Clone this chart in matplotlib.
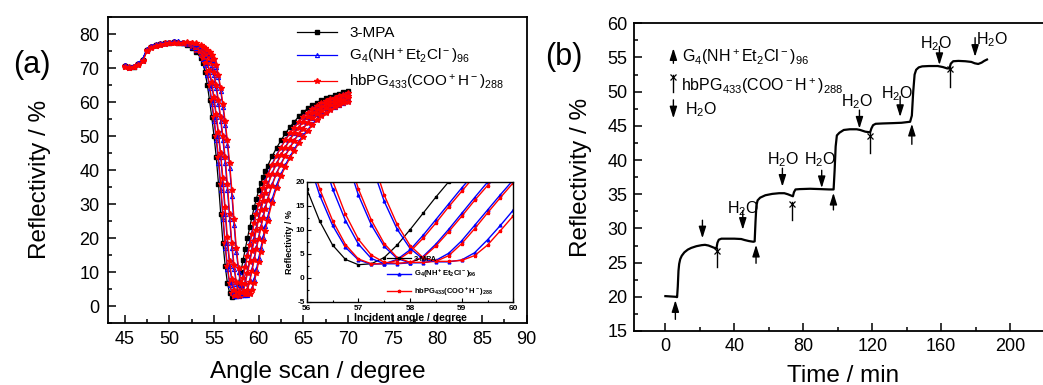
import matplotlib
matplotlib.use("Agg")
from matplotlib import pyplot as plt
from matplotlib.ticker import MultipleLocator

plt.rcParams["font.family"] = ["Liberation Sans", "DejaVu Sans"]
plt.rcParams["mathtext.default"] = "regular"
plt.rcParams["axes.unicode_minus"] = False

# ---- panel (a): SPR angle scans ----
angle = [45.0, 45.5, 46.0, 46.5, 47.0, 47.5, 48.0, 48.5, 49.0, 49.5, 50.0, 50.5, 51.0, 51.5, 52.0, 52.5, 53.0, 53.5,
         53.75, 54.0, 54.25, 54.5, 54.75, 55.0, 55.25, 55.5, 55.75, 56.0, 56.25, 56.5, 56.75, 57.0, 57.25, 57.5,
         57.75, 58.0, 58.25, 58.5, 58.75, 59.0, 59.25, 59.5, 59.75, 60.0, 60.25, 60.5, 60.75, 61.0,
         61.5, 62.0, 62.5, 63.0, 63.5, 64.0, 64.5, 65.0, 65.5, 66.0, 66.5, 67.0, 67.5, 68.0, 68.5, 69.0, 69.5, 70.0]

mpa = [70.5, 70.2, 70.4, 71.2, 72.3, 75.3, 76.3, 76.7, 77.0, 77.3, 77.5, 77.6, 77.5, 77.3, 76.8, 76.0, 74.8, 73.0,
       71.5, 68.8, 65.0, 60.5, 55.5, 50.0, 43.8, 36.0, 27.2, 18.5, 11.8, 6.8, 3.8, 2.7, 2.9, 4.2, 6.8, 10.0, 13.4, 16.8,
       20.0, 23.2, 26.2, 29.0, 31.6, 34.0, 36.1, 38.0, 39.7, 41.2,
       44.0, 46.5, 48.7, 50.8, 52.6, 54.2, 55.8, 57.0, 58.1, 59.0, 59.8, 60.5, 61.1, 61.6, 62.1, 62.5, 62.9, 63.2]

g4_1 = [70.8, 70.3, 70.5, 71.3, 72.5, 75.4, 76.4, 76.8, 77.1, 77.4, 77.6, 77.7, 77.6, 77.4, 77.0, 76.3, 75.3, 73.8,
        72.7, 71.0, 68.0, 64.1, 59.5, 54.4, 48.8, 42.2, 34.2, 25.5, 17.2, 10.9, 6.3, 3.7, 2.8, 2.9, 3.8, 5.8, 8.8, 12.1,
        15.4, 18.7, 21.8, 24.9, 27.8, 30.4, 32.9, 35.1, 37.0, 38.8,
        41.8, 44.5, 46.8, 49.0, 51.0, 52.7, 54.3, 55.8, 57.0, 58.1, 58.9, 59.7, 60.3, 60.9, 61.4, 61.9, 62.3, 62.7]
hb_1 = [70.6, 70.1, 70.4, 71.1, 72.3, 75.2, 76.3, 76.7, 77.0, 77.3, 77.5, 77.6, 77.5, 77.4, 77.1, 76.4, 75.4, 74.0,
        73.0, 71.5, 68.8, 65.0, 60.5, 55.5, 50.0, 43.8, 36.0, 27.2, 18.5, 11.9, 6.9, 3.9, 2.9, 2.9, 3.6, 5.4, 8.2, 11.4,
        14.8, 18.0, 21.2, 24.3, 27.2, 29.9, 32.4, 34.6, 36.6, 38.4,
        41.5, 44.2, 46.6, 48.8, 50.8, 52.5, 54.1, 55.7, 56.9, 57.9, 58.8, 59.6, 60.2, 60.8, 61.3, 61.8, 62.2, 62.6]
g4_2 = [70.9, 70.4, 70.6, 71.4, 72.6, 75.5, 76.5, 76.9, 77.2, 77.5, 77.7, 77.8, 77.7, 77.5, 77.3, 76.8, 76.0, 74.8,
        74.0, 73.0, 71.5, 68.8, 65.0, 60.5, 55.5, 50.0, 43.8, 36.0, 27.2, 18.5, 11.9, 7.0, 4.0, 2.9, 2.9, 3.1, 4.4, 7.0,
        10.1, 13.4, 16.7, 19.9, 23.0, 26.0, 28.7, 31.3, 33.6, 35.7,
        39.2, 42.0, 44.6, 46.9, 49.1, 51.0, 52.7, 54.3, 55.7, 56.9, 57.9, 58.7, 59.5, 60.1, 60.6, 61.1, 61.6, 62.0]
hb_2 = [70.5, 70.2, 70.3, 71.2, 72.2, 75.1, 76.2, 76.6, 77.0, 77.3, 77.4, 77.6, 77.5, 77.4, 77.3, 76.9, 76.1, 74.9,
        74.2, 73.2, 71.8, 69.3, 65.8, 61.4, 56.5, 51.1, 45.0, 37.6, 29.0, 20.2, 13.2, 8.0, 4.7, 3.2, 3.0, 3.2, 4.2, 6.6,
        9.6, 12.8, 16.1, 19.2, 22.4, 25.4, 28.2, 30.8, 33.2, 35.3,
        38.9, 41.7, 44.3, 46.6, 48.8, 50.8, 52.5, 54.1, 55.5, 56.7, 57.7, 58.6, 59.4, 60.0, 60.5, 61.0, 61.5, 61.9]
g4_3 = [71.0, 70.4, 70.7, 71.5, 72.6, 75.6, 76.6, 77.0, 77.3, 77.5, 77.7, 77.8, 77.8, 77.6, 77.5, 77.3, 76.7, 75.9,
        75.3, 74.6, 73.8, 72.7, 71.0, 68.0, 64.1, 59.5, 54.4, 48.8, 42.2, 34.2, 25.5, 17.2, 11.0, 6.5, 4.0, 3.1, 3.1, 3.6,
        5.1, 7.7, 10.9, 14.1, 17.3, 20.4, 23.5, 26.4, 29.1, 31.6,
        35.8, 39.2, 41.9, 44.5, 46.7, 48.9, 50.7, 52.4, 54.0, 55.4, 56.6, 57.5, 58.3, 59.1, 59.7, 60.3, 60.8, 61.2]
hb_3 = [70.4, 70.0, 70.3, 71.0, 72.1, 75.0, 76.1, 76.6, 76.9, 77.2, 77.4, 77.5, 77.5, 77.5, 77.5, 77.3, 76.8, 76.0,
        75.4, 74.8, 74.0, 73.0, 71.5, 68.8, 65.0, 60.5, 55.5, 50.0, 43.8, 36.0, 27.2, 18.5, 12.0, 7.1, 4.2, 3.2, 3.2, 3.4,
        4.6, 7.1, 10.2, 13.5, 16.7, 19.8, 22.9, 25.8, 28.6, 31.1,
        35.4, 38.9, 41.6, 44.2, 46.4, 48.6, 50.5, 52.2, 53.8, 55.2, 56.4, 57.4, 58.2, 59.0, 59.6, 60.2, 60.7, 61.1]
g4_4 = [70.9, 70.3, 70.6, 71.4, 72.5, 75.4, 76.5, 76.9, 77.2, 77.5, 77.7, 77.8, 77.8, 77.7, 77.6, 77.5, 77.2, 76.6,
        76.2, 75.8, 75.2, 74.5, 73.6, 72.4, 70.4, 67.3, 63.2, 58.5, 53.3, 47.5, 40.7, 32.5, 23.7, 15.9, 10.1, 6.1, 3.9, 3.3,
        3.3, 3.7, 5.2, 7.9, 10.9, 14.1, 17.2, 20.3, 23.4, 26.2,
        31.4, 35.6, 38.9, 41.6, 44.0, 46.2, 48.4, 50.3, 51.9, 53.5, 54.9, 56.1, 57.1, 57.9, 58.6, 59.2, 59.8, 60.3]
hb_4 = [70.3, 70.0, 70.2, 71.0, 72.0, 74.9, 76.0, 76.5, 76.9, 77.2, 77.4, 77.5, 77.5, 77.5, 77.6, 77.5, 77.3, 76.7,
        76.3, 75.9, 75.3, 74.6, 73.8, 72.7, 71.0, 68.0, 64.1, 59.5, 54.4, 48.8, 42.2, 34.2, 25.5, 17.2, 11.1, 6.7, 4.2, 3.4,
        3.4, 3.6, 4.6, 6.8, 9.8, 12.9, 16.0, 19.1, 22.2, 25.1,
        30.4, 34.7, 38.2, 41.0, 43.5, 45.7, 47.9, 49.8, 51.5, 53.1, 54.6, 55.8, 56.8, 57.6, 58.4, 59.0, 59.6, 60.1]

# deposition order: G4, hbPG, G4, hbPG ...
layers = [g4_1, hb_1, g4_2, hb_2, g4_3, hb_3, g4_4, hb_4]

lab_mpa = "3-MPA"
lab_g4 = r"G$_4$(NH$^+$Et$_2$Cl$^-$)$_{96}$"
lab_hb = r"hbPG$_{433}$(COO$^+$H$^-$)$_{288}$"

# ---- panel (b): reflectivity kinetics ----
time_min = [0.0, 3.0, 6.0, 6.8, 7.2, 7.6, 8.0, 8.6, 9.5, 11.0, 13.0, 15.0, 18.0, 21.0, 23.0, 25.0, 27.0, 29.0,
            29.6, 30.2, 31.0, 32.5, 36.0, 40.0, 44.0, 46.0, 48.5, 51.0, 51.8, 52.3, 52.8, 53.5, 55.0, 58.0,
            62.0, 66.0, 69.0, 71.0, 73.0, 74.0, 74.6, 75.5, 78.0, 84.0, 90.0, 95.0, 97.6, 98.2, 98.8, 99.5,
            101.0, 103.5, 107.0, 111.0, 113.0, 116.0, 118.8, 119.5, 120.5, 122.0, 126.0, 132.0, 137.0, 142.0,
            143.0, 143.8, 144.6, 145.5, 147.0, 149.0, 153.0, 158.0, 161.0, 163.5, 164.8, 165.6, 167.0, 170.0,
            174.0, 177.5, 179.5, 181.5, 183.5, 185.0, 186.6]
refl = [20.1, 20.05, 20.0, 19.95, 21.5, 23.8, 24.8, 25.5, 26.0, 26.5, 26.9, 27.15, 27.4, 27.55, 27.6, 27.5, 27.3, 27.1,
        27.05, 27.9, 28.35, 28.5, 28.5, 28.5, 28.45, 28.3, 28.15, 28.05, 28.1, 31.0, 33.3, 34.1, 34.5, 34.85,
        35.05, 35.15, 35.15, 35.0, 34.8, 34.7, 35.3, 35.7, 35.75, 35.8, 35.75, 35.7, 35.7, 38.5, 42.0, 43.6,
        44.0, 44.4, 44.5, 44.5, 44.4, 44.15, 44.05, 44.6, 45.1, 45.3, 45.35, 45.4, 45.45, 45.6,
        46.5, 50.0, 52.5, 53.2, 53.55, 53.7, 53.75, 53.75, 53.6, 53.4, 53.4, 54.1, 54.45, 54.5,
        54.45, 54.35, 54.15, 54.05, 54.25, 54.5, 54.7]

# injection markers (time, arrow tail, arrow tip)
g4_time = [5.8, 52.6, 97.5, 143.0]
g4_from = [16.7, 24.9, 32.7, 42.3]
g4_to = [19.5, 27.6, 35.2, 45.3]
hb_time = [29.8, 73.3, 118.8, 165.2]
hb_from = [24.3, 31.3, 41.0, 50.7]
hb_to = [27.1, 33.9, 43.9, 53.65]
water_time = [21.5, 44.9, 67.9, 90.7, 112.6, 136.2, 159.0, 179.7]
water_from = [31.2, 32.6, 38.8, 38.5, 47.3, 49.3, 56.6, 57.9]
water_to = [28.55, 29.8, 36.1, 35.9, 44.6, 46.3, 53.9, 55.1]
water_label_x = [45.0, 68.5, 89.7, 111.4, 134.2, 157.3, 189.6]
water_label_y = [32.2, 39.4, 39.4, 47.8, 49.1, 56.4, 57.0]

key_time = [4.65, 4.65, 4.65]
key_from = [54.15, 50.0, 48.8]
key_to = [56.35, 52.45, 46.1]
key_text_x = [9.5, 9.0, 11.4]
key_text_y = [54.4, 50.1, 46.7]
key_text = [r"G$_4$(NH$^+$Et$_2$Cl$^-$)$_{96}$", r"hbPG$_{433}$(COO$^-$H$^+$)$_{288}$", r"H$_2$O"]


def draw_arrow(ax, t, y0, y1):
    ax.annotate("", xy=(t, y1), xytext=(t, y0),
                arrowprops=dict(arrowstyle="-|>,head_length=0.7,head_width=0.22", color="black",
                                lw=1.0, mutation_scale=10, shrinkA=0, shrinkB=0))


def draw_cross_arrow(ax, t, y0, y1):
    ax.plot([t, t], [y0, y1], color="black", lw=1.0)
    ax.plot([t], [y1 - 0.35], marker="x", ms=4, mew=0.9, color="black")


fig = plt.figure(figsize=(10.43, 3.85), dpi=100)

# ================= (a) =================
ax = fig.add_axes([0.1033, 0.161, 0.4024, 0.7948])
ax.plot(angle, mpa, color="black", lw=0.9, marker="s", ms=2.2, label=lab_mpa)
for i, y in enumerate(layers):
    if i % 2 == 0:
        ax.plot(angle, y, color="blue", lw=0.9, marker="^", ms=3.0, mfc="none", mew=0.8,
                label=lab_g4 if i == 0 else None)
    else:
        ax.plot(angle, y, color="red", lw=0.9, marker="*", ms=4.0,
                label=lab_hb if i == 1 else None)

ax.set_xlim(43.1, 90.1)
ax.set_ylim(-5, 85)
ax.xaxis.set_major_locator(MultipleLocator(5))
ax.xaxis.set_minor_locator(MultipleLocator(2.5))
ax.yaxis.set_major_locator(MultipleLocator(10))
ax.yaxis.set_minor_locator(MultipleLocator(5))
ax.tick_params(which="both", direction="in", labelsize=13, width=1.1, pad=6)
ax.tick_params(which="major", length=6)
ax.tick_params(which="minor", length=3)
for s in ax.spines.values():
    s.set_linewidth(1.3)
ax.set_xlabel("Angle scan / degree", fontsize=17.5)
ax.set_ylabel("Reflectivity / %", fontsize=17.5)
ax.xaxis.set_label_coords(0.5, -0.125)
ax.yaxis.set_label_coords(-0.135, 0.47)
ax.legend(loc="upper left", bbox_to_anchor=(0.43, 1.0), frameon=False, fontsize=11,
          handlelength=2.6, labelspacing=0.45, borderaxespad=0.2)

# inset
axi = fig.add_axes([0.2941, 0.2164, 0.1981, 0.3117])
axi.plot(angle, mpa, color="black", lw=0.9, marker="s", ms=1.6, label=lab_mpa)
for i, y in enumerate(layers):
    if i % 2 == 0:
        axi.plot(angle, y, color="blue", lw=1.0, marker="^", ms=2.0,
                 label=lab_g4 if i == 0 else None)
    else:
        axi.plot(angle, y, color="red", lw=1.0, marker="*", ms=2.4,
                 label=lab_hb if i == 1 else None)
axi.set_xlim(56, 60)
axi.set_ylim(-5, 20)
axi.xaxis.set_major_locator(MultipleLocator(1))
axi.xaxis.set_minor_locator(MultipleLocator(0.5))
axi.yaxis.set_major_locator(MultipleLocator(5))
axi.yaxis.set_minor_locator(MultipleLocator(2.5))
axi.tick_params(which="both", direction="in", labelsize=6, width=0.8)
axi.tick_params(axis="x", pad=2.5)
axi.tick_params(axis="y", pad=1.5)
axi.tick_params(which="major", length=3)
axi.tick_params(which="minor", length=1.5)
for lbl in axi.get_xticklabels() + axi.get_yticklabels():
    lbl.set_fontweight("bold")
for s in axi.spines.values():
    s.set_linewidth(1.0)
axi.set_xlabel("Incident angle / degree", fontsize=7.5, fontweight="bold", labelpad=0.5)
axi.set_ylabel("Reflectivity / %", fontsize=6.5, fontweight="bold", labelpad=1)
leg = axi.legend(loc="lower left", bbox_to_anchor=(0.37, 0.0), frameon=False,
                 prop={"size": 5.5, "weight": "bold"}, handlelength=3.2, labelspacing=0.7,
                 handletextpad=0.3, borderaxespad=0.1)
leg.set_zorder(5)

fig.text(0.031, 0.831, "(a)", fontsize=22, ha="center", va="center")

# ================= (b) =================
bx = fig.add_axes([0.6082, 0.1403, 0.3966, 0.7992])
bx.plot(time_min, refl, color="black", lw=1.6)
for t, y0, y1 in zip(g4_time, g4_from, g4_to):
    draw_arrow(bx, t, y0, y1)
for t, y0, y1 in zip(hb_time, hb_from, hb_to):
    draw_cross_arrow(bx, t, y0, y1)
for t, y0, y1 in zip(water_time, water_from, water_to):
    draw_arrow(bx, t, y0, y1)
for x, y in zip(water_label_x, water_label_y):
    bx.text(x, y, r"H$_2$O", fontsize=11.5, ha="center", va="baseline")

draw_arrow(bx, key_time[0], key_from[0], key_to[0])
draw_cross_arrow(bx, key_time[1], key_from[1], key_to[1])
draw_arrow(bx, key_time[2], key_from[2], key_to[2])
for x, y, s in zip(key_text_x, key_text_y, key_text):
    bx.text(x, y, s, fontsize=11.5, ha="left", va="baseline")

bx.set_xlim(-18, 222)
bx.set_ylim(15, 60)
bx.xaxis.set_major_locator(MultipleLocator(40))
bx.xaxis.set_minor_locator(MultipleLocator(20))
bx.yaxis.set_major_locator(MultipleLocator(5))
bx.yaxis.set_minor_locator(MultipleLocator(2.5))
bx.tick_params(which="both", direction="in", labelsize=13, width=1.1, pad=5)
bx.tick_params(which="major", length=6)
bx.tick_params(which="minor", length=3)
for s in bx.spines.values():
    s.set_linewidth(1.3)
bx.set_xlabel("Time / min", fontsize=17.5)
bx.set_ylabel("Reflectivity / %", fontsize=17.5)
bx.xaxis.set_label_coords(0.505, -0.11)
bx.yaxis.set_label_coords(-0.103, 0.5)

fig.text(0.5407, 0.852, "(b)", fontsize=22, ha="center", va="center")

plt.savefig("out.png", dpi=100)
